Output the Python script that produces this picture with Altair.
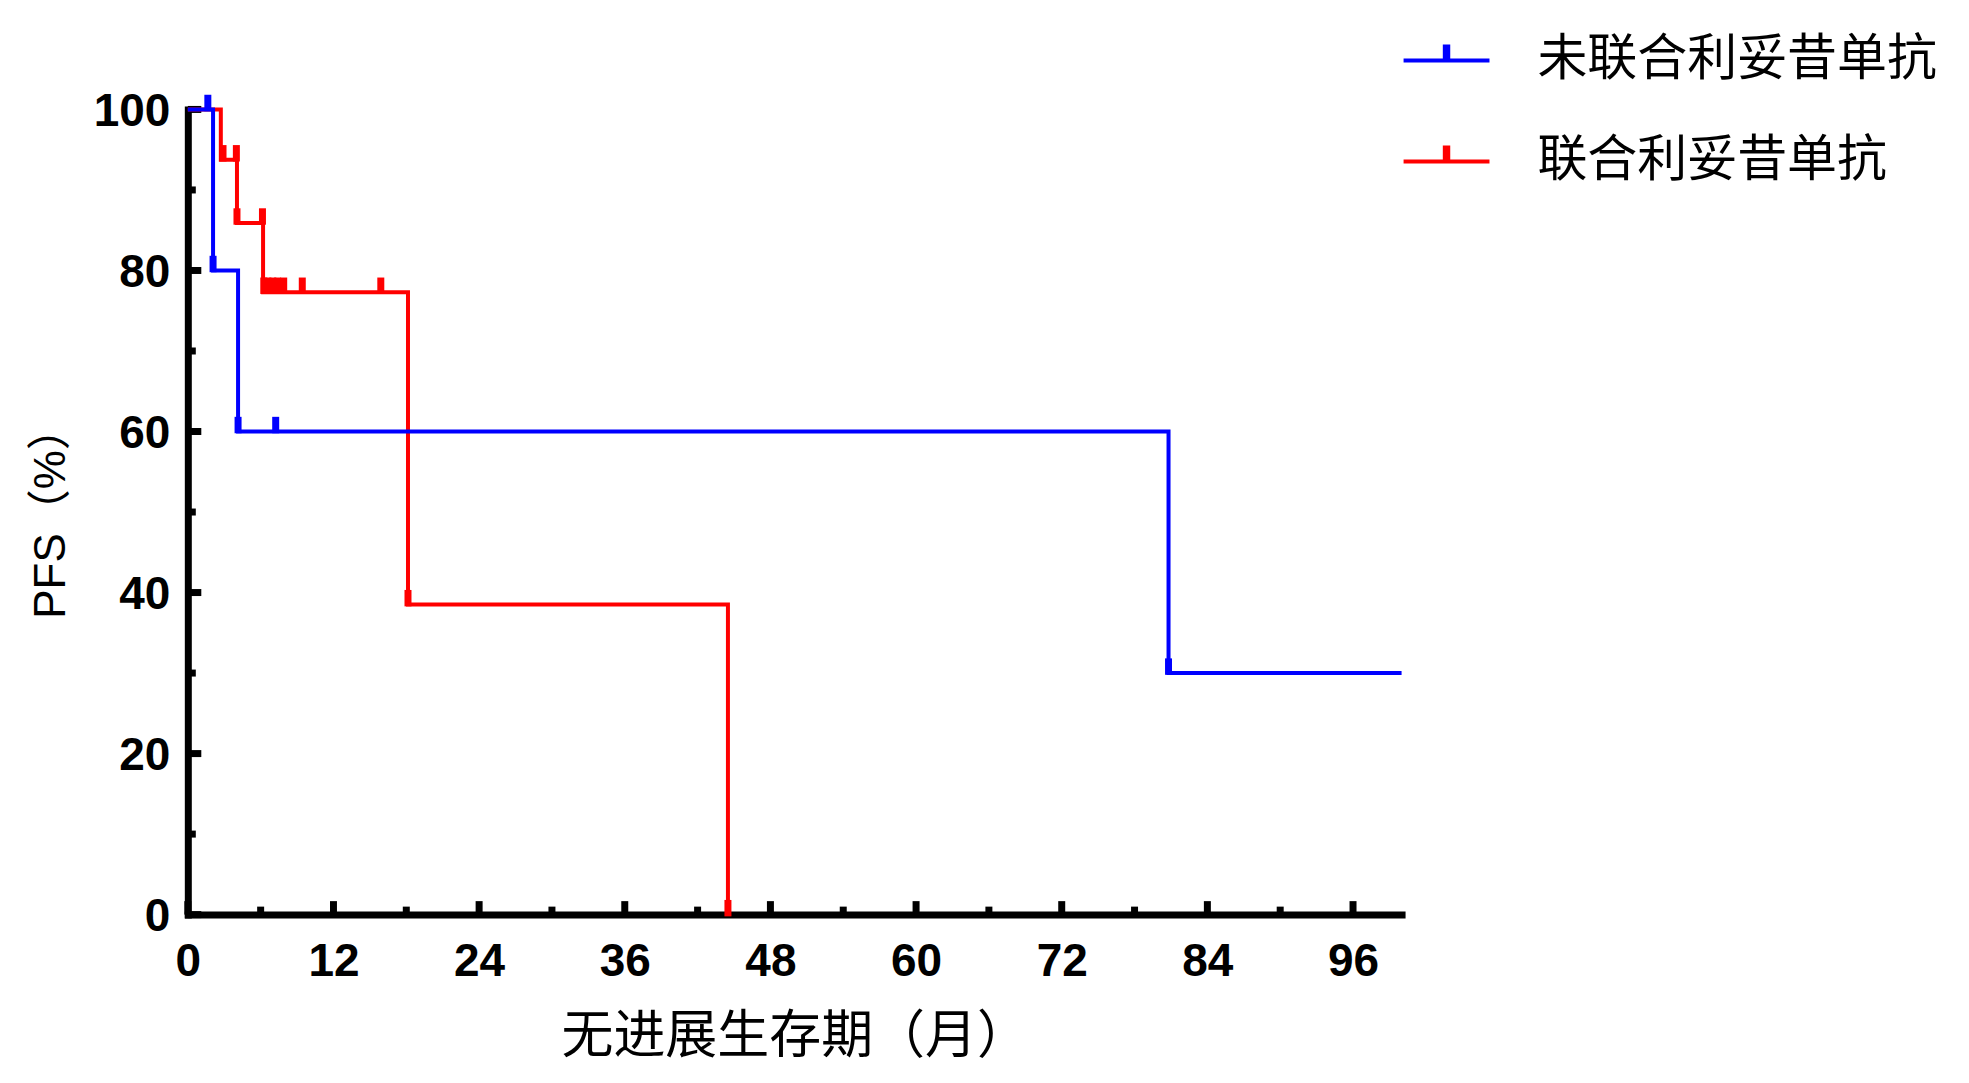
import altair as alt
import pandas as pd

# ---- data ----
groups = ["未联合利妥昔单抗", "联合利妥昔单抗"]
colors = ["#0000FF", "#FF0000"]

blue_time = [0, 2.08, 4.14, 80.8, 100]
blue_surv = [100, 80, 60, 30, 30]
blue_cens_time = [1.65, 2.08, 4.14, 7.24, 80.8]
blue_cens_surv = [100, 80, 60, 60, 30]

red_time = [0, 2.72, 4.05, 6.2, 18.14, 44.5]
red_surv = [100, 93.75, 85.9, 77.3, 38.5, 0]
red_cens_time = [2.9, 4.0, 4.05, 6.15, 6.26, 6.6, 7.0, 7.4, 7.9, 9.43, 15.9, 18.14, 44.5]
red_cens_surv = [93.75, 93.75, 85.9, 85.9, 77.3, 77.3, 77.3, 77.3, 77.3, 77.3, 77.3, 38.5, 0]

x_major = [0, 12, 24, 36, 48, 60, 72, 84, 96]
x_minor = [6, 18, 30, 42, 54, 66, 78, 90]
y_major = [0, 20, 40, 60, 80, 100]
y_minor = [10, 30, 50, 70, 90]

x_title = "无进展生存期（月）"
y_title = "PFS（%）"

# ---- tables ----
blue_df = pd.DataFrame({"t": blue_time, "s": blue_surv, "g": groups[0]})
red_df = pd.DataFrame({"t": red_time, "s": red_surv, "g": groups[1]})
blue_c = pd.DataFrame({"t": blue_cens_time, "s": blue_cens_surv, "g": groups[0]})
red_c = pd.DataFrame({"t": red_cens_time, "s": red_cens_surv, "g": groups[1]})

W, H = 1215, 806

xscale = alt.Scale(domain=[0, 100], nice=False, zero=False)
yscale = alt.Scale(domain=[0, 100], nice=False)

xaxis = alt.Axis(title=x_title, values=x_major, format="d", labelPadding=25,
                 titlePadding=27, labelFlush=False)
yaxis = alt.Axis(title=y_title, values=y_major, format="d", labelPadding=18,
                 titlePadding=20, labelOffset=2, labelFlush=False)

cscale = alt.Scale(domain=groups, range=colors)

legend_path = "M-1,0L1,0M-0.04,0L-0.04,-0.37M0,0L0,-0.37M0.04,0L0.04,-0.37"
legend = alt.Legend(title=None, orient="none", legendX=1215, legendY=-94,
                    symbolType=legend_path, symbolSize=7396, symbolStrokeWidth=4,
                    labelFont="Noto Sans CJK SC", labelFontSize=50,
                    labelFontWeight="normal", labelColor="black", labelLimit=0,
                    labelOffset=46, rowPadding=31, padding=0)

def X(f):
    return alt.X(f"{f}:Q", scale=xscale, axis=xaxis)

def Y(f):
    return alt.Y(f"{f}:Q", scale=yscale, axis=yaxis)

red_line = alt.Chart(red_df).mark_line(interpolate="step-after", strokeWidth=4).encode(
    x=X("t"), y=Y("s"), color=alt.Color("g:N", scale=cscale, legend=legend))
blue_line = alt.Chart(blue_df).mark_line(interpolate="step-after", strokeWidth=4).encode(
    x=X("t"), y=Y("s"), color=alt.Color("g:N", scale=cscale, legend=legend))

cens_shape = "M-0.5,0.25L0.5,0.25L0.5,-2.1L-0.5,-2.1Z"
red_cens = alt.Chart(red_c).mark_point(shape=cens_shape, filled=True, size=196,
                                       opacity=1, strokeWidth=0).encode(
    x=X("t"), y=Y("s"), color=alt.Color("g:N", scale=cscale, legend=None))
blue_cens = alt.Chart(blue_c).mark_point(shape=cens_shape, filled=True, size=196,
                                         opacity=1, strokeWidth=0).encode(
    x=X("t"), y=Y("s"), color=alt.Color("g:N", scale=cscale, legend=None))

# inward axis ticks
xmaj = alt.Chart(pd.DataFrame({"v": x_major})).mark_rule(color="black", strokeWidth=7).encode(
    x=X("v"), y=alt.value(H), y2=alt.value(H - 13.5))
xmin = alt.Chart(pd.DataFrame({"v": x_minor})).mark_rule(color="black", strokeWidth=7).encode(
    x=X("v"), y=alt.value(H), y2=alt.value(H - 8))
ymaj = alt.Chart(pd.DataFrame({"v": y_major})).mark_rule(color="black", strokeWidth=7).encode(
    y=Y("v"), x=alt.value(0), x2=alt.value(13.5))
ymin = alt.Chart(pd.DataFrame({"v": y_minor})).mark_rule(color="black", strokeWidth=7).encode(
    y=Y("v"), x=alt.value(0), x2=alt.value(8))

chart = alt.layer(xmaj, xmin, ymaj, ymin, red_line, red_cens, blue_line, blue_cens).properties(
    width=W, height=H,
    autosize=alt.AutoSizeParams(type="none"),
    padding={"left": 180, "top": 101, "right": 560, "bottom": 155},
).configure_view(stroke=None).configure_axis(
    domainColor="black", domainWidth=7, domainCap="square",
    ticks=False, grid=False,
    labelFont="Liberation Sans", labelFontSize=46, labelFontWeight="bold",
    labelColor="black",
    titleFont="Liberation Sans, Noto Sans CJK SC", titleFontWeight="normal",
    titleColor="black",
).configure_axisX(titleFontSize=52, titleFont="Noto Sans CJK SC"
).configure_axisY(titleFontSize=44)

chart.save("out.html", embed_options={"renderer": "svg", "actions": False})
